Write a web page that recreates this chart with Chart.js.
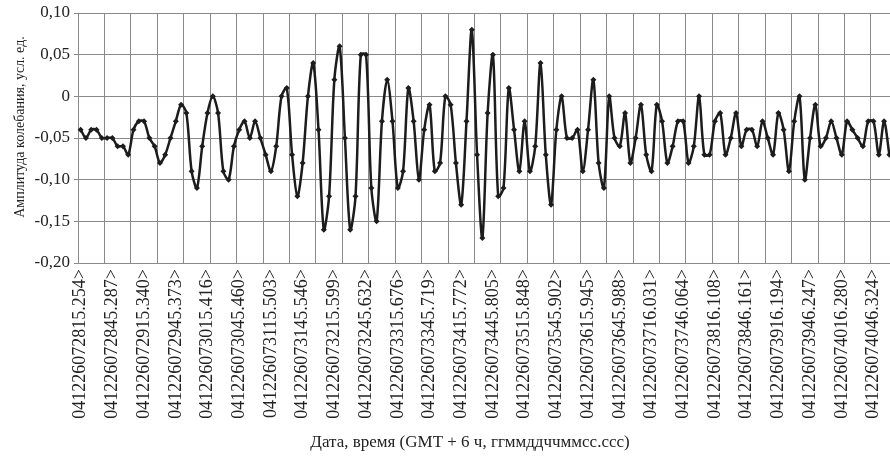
<!DOCTYPE html>
<html>
<head>
<meta charset="utf-8">
<script src="https://cdn.jsdelivr.net/npm/chart.js@4"></script>
<style>
  html, body { margin: 0; padding: 0; background: #fff; overflow: hidden; }
  canvas { display: block; }
</style>
</head>
<body>
<canvas id="chart" width="896" height="460"></canvas>
<script>
// sample values, one every ~5 s
const amplitude = [
  -0.04, -0.05, -0.04, -0.04, -0.05, -0.05, -0.05, -0.06, -0.06, -0.07,
  -0.04, -0.03, -0.03, -0.05, -0.06, -0.08, -0.07, -0.05, -0.03, -0.01,
  -0.02, -0.09, -0.11, -0.06, -0.02, 0.00, -0.02, -0.09, -0.10, -0.06,
  -0.04, -0.03, -0.05, -0.03, -0.05, -0.07, -0.09, -0.06, 0.00, 0.01,
  -0.07, -0.12, -0.08, 0.00, 0.04, -0.04, -0.16, -0.12, 0.02, 0.06,
  -0.05, -0.16, -0.12, 0.05, 0.05, -0.11, -0.15, -0.03, 0.02, -0.03,
  -0.11, -0.09, 0.01, -0.03, -0.10, -0.04, -0.01, -0.09, -0.08, 0.00,
  -0.01, -0.08, -0.13, -0.03, 0.08, -0.07, -0.17, -0.02, 0.05, -0.12,
  -0.11, 0.01, -0.04, -0.09, -0.03, -0.09, -0.06, 0.04, -0.07, -0.13,
  -0.04, 0.00, -0.05, -0.05, -0.04, -0.09, -0.04, 0.02, -0.08, -0.11,
  0.00, -0.05, -0.06, -0.02, -0.08, -0.05, -0.01, -0.07, -0.09, -0.01,
  -0.03, -0.08, -0.06, -0.03, -0.03, -0.08, -0.06, 0.00, -0.07, -0.07,
  -0.03, -0.02, -0.07, -0.05, -0.02, -0.06, -0.04, -0.04, -0.06, -0.03,
  -0.05, -0.07, -0.02, -0.04, -0.09, -0.03, 0.00, -0.10, -0.05, -0.01,
  -0.06, -0.05, -0.03, -0.05, -0.07, -0.03, -0.04, -0.05, -0.06, -0.03,
  -0.03, -0.07, -0.03, -0.07
];

// every 6th sample carries a label
const tickLabels = [
  "041226072815.254>", "041226072845.287>", "041226072915.340>", "041226072945.373>",
  "041226073015.416>", "041226073045.460>", "041226073115.503>", "041226073145.546>",
  "041226073215.599>", "041226073245.632>", "041226073315.676>", "041226073345.719>",
  "041226073415.772>", "041226073445.805>", "041226073515.848>", "041226073545.902>",
  "041226073615.945>", "041226073645.988>", "041226073716.031>", "041226073746.064>",
  "041226073816.108>", "041226073846.161>", "041226073916.194>", "041226073946.247>",
  "041226074016.280>", "041226074046.324>"
];
const labelStep = 6;
const gridStep = 5;

const yTitle = "Амплитуда колебания, усл. ед.";
const xTitle = "Дата, время (GMT + 6 ч, ггммддччммсс.ссс)";

const categories = amplitude.map((v, i) =>
  i % labelStep === 0 && tickLabels[i / labelStep] ? tickLabels[i / labelStep] : ""
);

const serif = "'Liberation Serif', 'Times New Roman', serif";
const gridColor = "#8a8a8a";

// axis titles drawn by hand so they sit where the original has them
const titlesPlugin = {
  id: "titles",
  afterDraw(chart) {
    const c = chart.ctx;
    c.save();
    c.fillStyle = "#222";
    c.textAlign = "center";
    c.textBaseline = "middle";
    c.font = "14px " + serif;
    c.translate(20, 127);
    c.rotate(-Math.PI / 2);
    c.fillText(yTitle, 0, 0);
    c.restore();

    c.save();
    c.fillStyle = "#222";
    c.textAlign = "center";
    c.textBaseline = "alphabetic";
    c.font = "17px " + serif;
    c.fillText(xTitle, 470, 447);
    c.restore();
  }
};

const ctx = document.getElementById("chart").getContext("2d");
new Chart(ctx, {
  type: "line",
  data: {
    labels: categories,
    datasets: [{
      data: amplitude,
      borderColor: "#1c1c1c",
      backgroundColor: "#1c1c1c",
      borderWidth: 2.5,
      tension: 0.3,
      pointStyle: "rectRot",
      pointRadius: 3,
      pointBorderWidth: 0,
      fill: false
    }]
  },
  options: {
    responsive: false,
    animation: false,
    layout: { padding: { top: 13, right: 1.5, left: 0, bottom: 0 } },
    plugins: {
      legend: { display: false },
      tooltip: { enabled: false }
    },
    scales: {
      x: {
        offset: true,
        grid: {
          offset: true,
          drawTicks: false,
          color: c => (c.index % gridStep === 0 ? gridColor : "rgba(0,0,0,0)")
        },
        border: { color: gridColor },
        ticks: {
          autoSkip: false,
          minRotation: 90,
          maxRotation: 90,
          padding: 6,
          color: "#222",
          font: { family: serif, size: 18 }
        },
        afterFit: s => {
          s.height = 197;
          s.paddingLeft = 0;
          s.paddingRight = 0;
        }
      },
      y: {
        min: -0.2,
        max: 0.1,
        grid: { color: gridColor, tickLength: 4 },
        border: { color: gridColor },
        ticks: {
          stepSize: 0.05,
          padding: 4,
          color: "#222",
          font: { family: serif, size: 17 },
          callback: v => (Math.abs(v) < 1e-9 ? "0" : v.toFixed(2).replace(".", ","))
        },
        afterFit: s => {
          s.width = 78;
          s.paddingTop = 0;
          s.paddingBottom = 0;
        }
      }
    }
  },
  plugins: [titlesPlugin]
});
</script>
</body>
</html>
